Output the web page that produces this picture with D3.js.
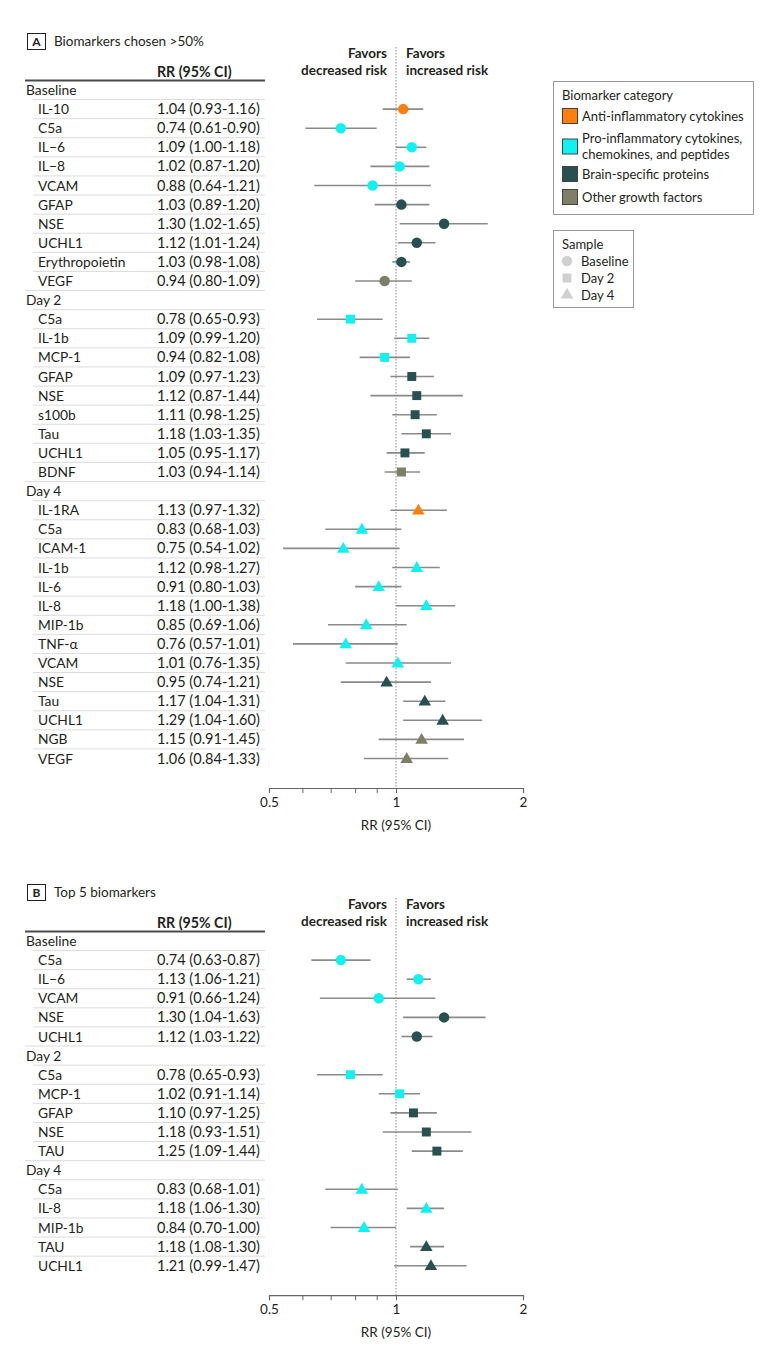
<!DOCTYPE html>
<html><head><meta charset="utf-8">
<script src="https://cdn.jsdelivr.net/npm/d3@7"></script>
<style>
body{margin:0;background:#fff;}
svg text{font-family:Lato,"Noto Sans",sans-serif;fill:#231f20;}
</style></head><body>
<svg id="chart" width="780" height="1349"></svg>
<script>
// ---- data ----
const categoryKeys = ["anti","pro","brain","other"];
const categoryLabels = [["Anti-inflammatory cytokines"],["Pro-inflammatory cytokines,","chemokines, and peptides"],["Brain-specific proteins"],["Other growth factors"]];
const categoryColors = ["#ff7f0a","#10f2f2","#275150","#7f7e67"];
const sampleNames = ["Baseline","Day 2","Day 4"];
const axisTicks = [0.5,0.6,0.7,0.8,0.9,1,2];
const axisLabels = [0.5,1,2];

// [name, RR, lower, upper, category]
const aBaseline = [
 ["IL-10",1.04,0.93,1.16,"anti"],["C5a",0.74,0.61,0.90,"pro"],["IL\u22126",1.09,1.00,1.18,"pro"],
 ["IL\u22128",1.02,0.87,1.20,"pro"],["VCAM",0.88,0.64,1.21,"pro"],["GFAP",1.03,0.89,1.20,"brain"],
 ["NSE",1.30,1.02,1.65,"brain"],["UCHL1",1.12,1.01,1.24,"brain"],["Erythropoietin",1.03,0.98,1.08,"brain"],
 ["VEGF",0.94,0.80,1.09,"other"]];
const aDay2 = [
 ["C5a",0.78,0.65,0.93,"pro"],["IL-1b",1.09,0.99,1.20,"pro"],["MCP-1",0.94,0.82,1.08,"pro"],
 ["GFAP",1.09,0.97,1.23,"brain"],["NSE",1.12,0.87,1.44,"brain"],["s100b",1.11,0.98,1.25,"brain"],
 ["Tau",1.18,1.03,1.35,"brain"],["UCHL1",1.05,0.95,1.17,"brain"],["BDNF",1.03,0.94,1.14,"other"]];
const aDay4 = [
 ["IL-1RA",1.13,0.97,1.32,"anti"],["C5a",0.83,0.68,1.03,"pro"],["ICAM-1",0.75,0.54,1.02,"pro"],
 ["IL-1b",1.12,0.98,1.27,"pro"],["IL-6",0.91,0.80,1.03,"pro"],["IL-8",1.18,1.00,1.38,"pro"],
 ["MIP-1b",0.85,0.69,1.06,"pro"],["TNF-\u03b1",0.76,0.57,1.01,"pro"],["VCAM",1.01,0.76,1.35,"pro"],
 ["NSE",0.95,0.74,1.21,"brain"],["Tau",1.17,1.04,1.31,"brain"],["UCHL1",1.29,1.04,1.60,"brain"],
 ["NGB",1.15,0.91,1.45,"other"],["VEGF",1.06,0.84,1.33,"other"]];
const bBaseline = [
 ["C5a",0.74,0.63,0.87,"pro"],["IL\u22126",1.13,1.06,1.21,"pro"],["VCAM",0.91,0.66,1.24,"pro"],
 ["NSE",1.30,1.04,1.63,"brain"],["UCHL1",1.12,1.03,1.22,"brain"]];
const bDay2 = [
 ["C5a",0.78,0.65,0.93,"pro"],["MCP-1",1.02,0.91,1.14,"pro"],["GFAP",1.10,0.97,1.25,"brain"],
 ["NSE",1.18,0.93,1.51,"brain"],["TAU",1.25,1.09,1.44,"brain"]];
const bDay4 = [
 ["C5a",0.83,0.68,1.01,"pro"],["IL-8",1.18,1.06,1.30,"pro"],["MIP-1b",0.84,0.70,1.00,"pro"],
 ["TAU",1.18,1.08,1.30,"brain"],["UCHL1",1.21,0.99,1.47,"brain"]];

// ---- drawing ----
const svg = d3.select("#chart");
const color = d3.scaleOrdinal(categoryKeys, categoryColors);
const shape = d3.scaleOrdinal(sampleNames, [d3.symbolCircle, d3.symbolSquare, d3.symbolTriangle]);
const shapeSize = d3.scaleOrdinal(sampleNames, [86, 80, 68]);
const x = d3.scaleLog().domain([0.5,2]).range([269,523]);
const fmt = d3.format(".2f");
const rowH = 19.1;

function drawPanel(top, letter, title, groups){
  const g = svg.append("g").attr("transform",`translate(0,${top})`);
  // title
  g.append("rect").attr("x",27.5).attr("y",9.5).attr("width",18).attr("height",16)
    .attr("fill","none").attr("stroke","#231f20").attr("stroke-width",1);
  g.append("text").attr("x",36.5).attr("y",22).attr("text-anchor","middle")
    .attr("font-size",12).attr("font-weight",700).text(letter);
  g.append("text").attr("x",54).attr("y",22).attr("font-size",13.5).text(title);

  // rows
  const rows = [];
  groups.forEach((grp,gi)=>{
    rows.push({type:"header",label:sampleNames[gi]});
    grp.forEach(d=>rows.push({type:"item",label:d[0],rr:d[1],lo:d[2],hi:d[3],cat:d[4],sample:sampleNames[gi]}));
  });
  rows.forEach((r,i)=>r.id=i);
  const y = d3.scalePoint().domain(rows.map(r=>r.id)).range([66, 66+(rows.length-1)*rowH]);
  const yLast = y(rows.length-1);
  const axisY = yLast + 29.5;

  // header
  g.append("text").attr("x",157).attr("y",53).attr("font-size",14.2).attr("font-weight",700).text("RR (95% CI)");
  g.append("line").attr("x1",25).attr("x2",265).attr("y1",56.5).attr("y2",56.5)
    .attr("stroke","#4a4a4a").attr("stroke-width",2);
  // favors
  const fav = g.append("g").attr("font-size",13.5).attr("font-weight",700);
  fav.append("text").attr("x",387).attr("y",34).attr("text-anchor","end").text("Favors");
  fav.append("text").attr("x",387).attr("y",51).attr("text-anchor","end").text("decreased risk");
  fav.append("text").attr("x",406).attr("y",34).text("Favors");
  fav.append("text").attr("x",406).attr("y",51).text("increased risk");

  // separators
  rows.forEach((r,i)=>{
    if(i===rows.length-1) return;
    const next = rows[i+1];
    g.append("line").attr("x1", next.type==="header"?25:33).attr("x2",265)
      .attr("y1",y(i)+rowH/2).attr("y2",y(i)+rowH/2).attr("stroke","#dcdcdc").attr("stroke-width",1);
  });
  // labels
  const lab = g.append("g");
  rows.forEach((r,i)=>{
    lab.append("text").attr("x",r.type==="header"?26:38).attr("y",y(i)+5).attr("font-size",13.8).text(r.label);
    if(r.type==="item"){
      lab.append("text").attr("x",157).attr("y",y(i)+5).attr("font-size",14.5)
        .text(`${fmt(r.rr)} (${fmt(r.lo)}-${fmt(r.hi)})`);
    }
  });

  // reference line
  g.append("line").attr("x1",x(1)).attr("x2",x(1)).attr("y1",23).attr("y2",axisY)
    .attr("stroke","#888").attr("stroke-width",1).attr("stroke-dasharray","1.5,1.5");

  // CIs and markers
  const items = rows.filter(r=>r.type==="item");
  g.selectAll("line.ci").data(items).join("line").attr("class","ci")
    .attr("x1",d=>x(d.lo)).attr("x2",d=>x(d.hi)).attr("y1",d=>y(d.id)).attr("y2",d=>y(d.id))
    .attr("stroke","#8a8a8a").attr("stroke-width",1.6);
  g.selectAll("path.pt").data(items).join("path").attr("class","pt")
    .attr("transform",d=>`translate(${x(d.rr)},${y(d.id)+(d.sample==="Day 4"?0.8:0)})`)
    .attr("d",d=>d3.symbol(shape(d.sample), shapeSize(d.sample))())
    .attr("fill",d=>color(d.cat));

  // axis
  const ax = g.append("g").attr("transform",`translate(0,${axisY})`)
    .call(d3.axisBottom(x).tickValues(axisTicks).tickSize(5).tickPadding(4)
      .tickFormat(d=>axisLabels.includes(d)? String(d):""));
  ax.select(".domain").attr("stroke","#666").attr("stroke-width",1.2);
  ax.selectAll(".tick line").attr("stroke","#666");
  ax.selectAll(".tick text").attr("font-size",13.5).attr("font-family","Lato,'Noto Sans',sans-serif").attr("fill","#231f20");
  g.append("text").attr("x",x(1)).attr("y",axisY+42).attr("text-anchor","middle").attr("font-size",13.5).text("RR (95% CI)");
}

drawPanel(24, "A", "Biomarkers chosen >50%", [aBaseline, aDay2, aDay4]);
drawPanel(875, "B", "Top 5 biomarkers", [bBaseline, bDay2, bDay4]);

// legends
const lg = svg.append("g");
lg.append("rect").attr("x",553.5).attr("y",81.5).attr("width",200).attr("height",133)
  .attr("fill","#fff").attr("stroke","#999").attr("stroke-width",1);
lg.append("text").attr("x",562).attr("y",100).attr("font-size",13).text("Biomarker category");
const catY = [116,146.5,174,197];
categoryKeys.forEach((k,i)=>{
  lg.append("rect").attr("x",562.5).attr("y",catY[i]-7.5).attr("width",15).attr("height",15)
    .attr("fill",color(k)).attr("stroke","#444").attr("stroke-width",1);
  const lines = categoryLabels[i];
  lines.forEach((t,j)=>{
    lg.append("text").attr("x",582).attr("y",catY[i]+4.5+(lines.length>1?(j-0.5)*15.5:0)).attr("font-size",13).text(t);
  });
});
lg.append("rect").attr("x",553.5).attr("y",230.5).attr("width",80).attr("height",77)
  .attr("fill","#fff").attr("stroke","#999").attr("stroke-width",1);
lg.append("text").attr("x",562).attr("y",249).attr("font-size",13).text("Sample");
const sY = [261,278,295];
sampleNames.forEach((s,i)=>{
  lg.append("path").attr("transform",`translate(567,${sY[i]})`)
    .attr("d",d3.symbol(shape(s), shapeSize(s))()).attr("fill","#d0d0d0");
  lg.append("text").attr("x",581).attr("y",sY[i]+4.5).attr("font-size",13).text(s);
});
</script>
</body></html>
